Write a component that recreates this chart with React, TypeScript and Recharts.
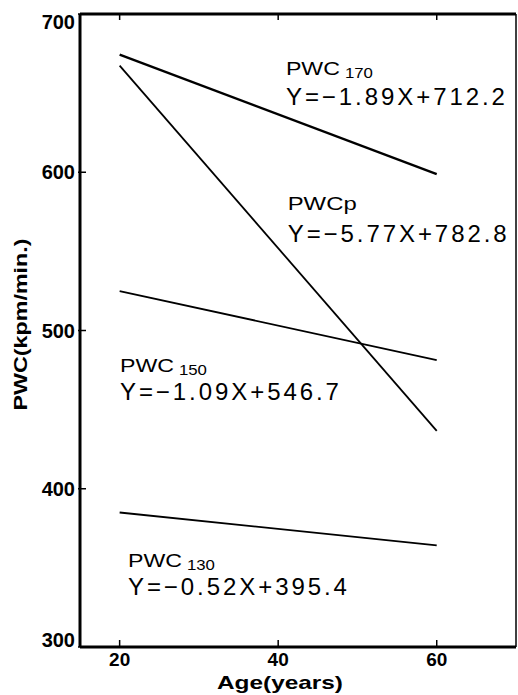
import React from 'react';
import { LineChart, Line, XAxis, YAxis, ReferenceDot, Label } from 'recharts';

const ages = [20, 60];
const pwc170 = [674.4, 598.8];
const pwcP = [667.4, 436.6];
const pwc150 = [524.9, 481.3];
const pwc130 = [385.0, 364.2];

const xTicks = [20, 40, 60];
const yTicks = [300, 400, 500, 600, 700];

const labelMain = ['PWC', 'PWCp', 'PWC', 'PWC'];
const labelSub = ['170', '', '150', '130'];
const equations = ['Y=−1.89X+712.2', 'Y=−5.77X+782.8', 'Y=−1.09X+546.7', 'Y=−0.52X+395.4'];
const labelAge = [40.98, 41.2, 20.04, 21.05];
const labelValue = [661.5, 576.2, 473.9, 350.6];
const eqGap = [30, 32, 28, 28];

const data = ages.map((age, i) => ({
  age,
  pwc170: pwc170[i],
  pwcP: pwcP[i],
  pwc150: pwc150[i],
  pwc130: pwc130[i],
}));

const tickFont = '"Liberation Sans", Arial, sans-serif';

const LeftTick = (props: any) => {
  const { x, y, payload } = props;
  const ax = x + 5;
  let ty = y + 7;
  if (payload.value === 700) ty = y + 15;
  if (payload.value === 300) ty = y;
  return (
    <g>
      <line x1={ax - 2} x2={ax + 6} y1={y} y2={y} stroke="#000" strokeWidth={1.5} />
      <text x={x} y={ty} textAnchor="end" fontFamily={tickFont} fontWeight="bold" fontSize={20} fill="#000">
        {payload.value}
      </text>
    </g>
  );
};

const RightTick = (props: any) => {
  const { x, y } = props;
  return <line x1={x} x2={x - 6} y1={y} y2={y} stroke="#000" strokeWidth={1.2} />;
};

const BottomTick = (props: any) => {
  const { x, y, payload } = props;
  return (
    <g>
      <line x1={x} x2={x} y1={y} y2={y - 7} stroke="#000" strokeWidth={1.5} />
      <text x={x} y={y + 19} textAnchor="middle" fontFamily={tickFont} fontWeight="bold" fontSize={19} fill="#000">
        {payload.value}
      </text>
    </g>
  );
};

const TopTick = (props: any) => {
  const { x, y } = props;
  return <line x1={x} x2={x} y1={y} y2={y + 6} stroke="#000" strokeWidth={1.5} />;
};

const annoShape = (i: number) => (props: any) => {
  const { cx, cy } = props;
  const mainLen = labelMain[i].length === 4 ? 69 : 54;
  return (
    <g>
      <text x={cx} y={cy} fontFamily={tickFont} fontSize={18} fontWeight={500} textLength={mainLen} lengthAdjust="spacingAndGlyphs" fill="#000">
        {labelMain[i]}
      </text>
      {labelSub[i] && (
        <text x={cx + mainLen + 5} y={cy + 3} fontFamily={tickFont} fontSize={14} textLength={28} lengthAdjust="spacingAndGlyphs" fill="#000">
          {labelSub[i]}
        </text>
      )}
      <text x={cx} y={cy + eqGap[i]} fontFamily={tickFont} fontSize={24} textLength={219} lengthAdjust="spacing" fill="#000">
        {equations[i]}
      </text>
    </g>
  );
};

export default function App() {
  return (
    <div style={{ position: 'absolute', left: 0, top: 0, background: '#fff' }}>
      <LineChart width={518} height={695} data={data} margin={{ top: 0, right: 0, bottom: 0, left: 0 }}>
        <XAxis
          xAxisId="b"
          dataKey="age"
          type="number"
          domain={[15, 70]}
          ticks={xTicks}
          height={48}
          tickSize={0}
          tickMargin={0}
          tickLine={false}
          axisLine={{ stroke: '#000', strokeWidth: 3 }}
          tick={<BottomTick />}
        >
          <Label
            content={(p: any) => {
              const vb = p.viewBox;
              return (
                <text x={vb.x + vb.width / 2 - 18} y={vb.y + 42} textAnchor="middle" fontFamily={tickFont} fontWeight="bold" fontSize={19} textLength={126} lengthAdjust="spacingAndGlyphs" fill="#000">
                  Age(years)
                </text>
              );
            }}
          />
        </XAxis>
        <XAxis
          xAxisId="t"
          dataKey="age"
          type="number"
          orientation="top"
          domain={[15, 70]}
          ticks={xTicks}
          height={14}
          tickSize={0}
          tickMargin={0}
          tickLine={false}
          axisLine={{ stroke: '#000', strokeWidth: 3 }}
          tick={<TopTick />}
        />
        <YAxis
          yAxisId="l"
          type="number"
          domain={[300, 700]}
          ticks={yTicks}
          width={80}
          tickSize={0}
          tickMargin={5}
          tickLine={false}
          axisLine={{ stroke: '#000', strokeWidth: 3 }}
          tick={<LeftTick />}
        >
          <Label
            content={(p: any) => {
              const vb = p.viewBox;
              const lx = vb.x + 27;
              const ly = vb.y + vb.height / 2 - 6;
              return (
                <text x={lx} y={ly} transform={`rotate(-90, ${lx}, ${ly})`} textAnchor="middle" fontFamily={tickFont} fontWeight="bold" fontSize={18} textLength={172} lengthAdjust="spacingAndGlyphs" fill="#000">
                  PWC(kpm/min.)
                </text>
              );
            }}
          />
        </YAxis>
        <YAxis
          yAxisId="r"
          type="number"
          orientation="right"
          domain={[300, 700]}
          ticks={[400, 500, 600]}
          width={2}
          tickSize={0}
          tickMargin={0}
          tickLine={false}
          axisLine={{ stroke: '#000', strokeWidth: 1.5 }}
          tick={<RightTick />}
        />
        <Line xAxisId="b" yAxisId="l" dataKey="pwc170" stroke="#000" strokeWidth={2.4} dot={false} isAnimationActive={false} />
        <Line xAxisId="b" yAxisId="l" dataKey="pwcP" stroke="#000" strokeWidth={1.8} dot={false} isAnimationActive={false} />
        <Line xAxisId="b" yAxisId="l" dataKey="pwc150" stroke="#000" strokeWidth={1.8} dot={false} isAnimationActive={false} />
        <Line xAxisId="b" yAxisId="l" dataKey="pwc130" stroke="#000" strokeWidth={1.8} dot={false} isAnimationActive={false} />
        {labelMain.map((_, i) => (
          <ReferenceDot
            key={i}
            xAxisId="b"
            yAxisId="l"
            x={labelAge[i]}
            y={labelValue[i]}
            r={0}
            shape={annoShape(i)}
          />
        ))}
      </LineChart>
    </div>
  );
}
